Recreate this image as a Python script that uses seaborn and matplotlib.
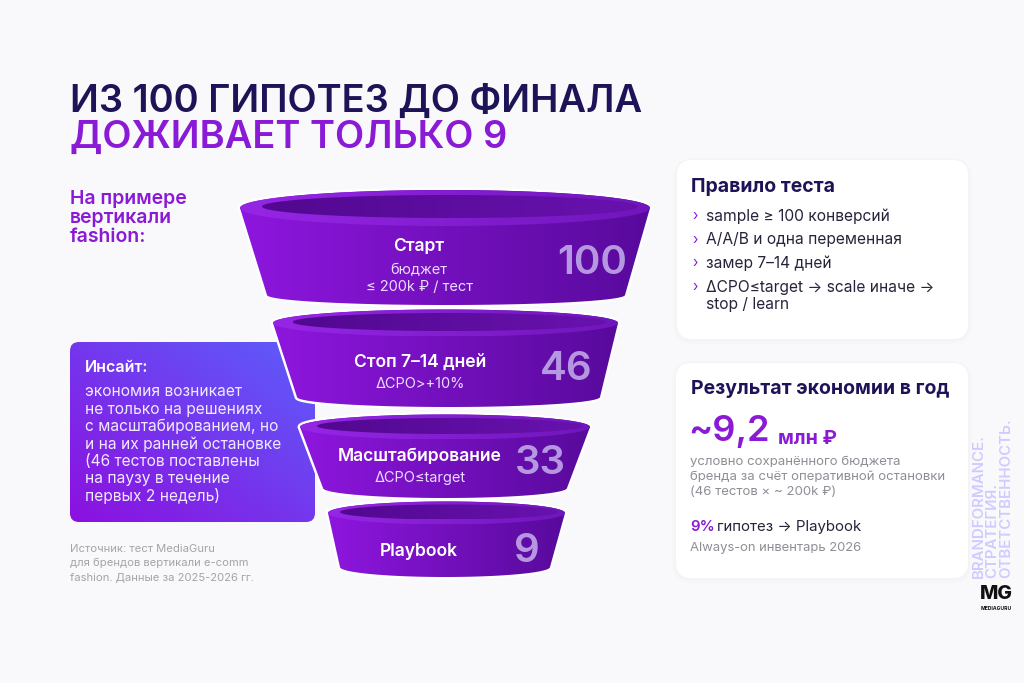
import numpy as np
import matplotlib
matplotlib.use("Agg")
import matplotlib.pyplot as plt
import seaborn as sns
from matplotlib.path import Path
from matplotlib.patches import PathPatch, FancyBboxPatch
from matplotlib.colors import to_rgb

sns.set_theme(style="white")
plt.rcParams['font.family'] = ['Inter', 'DejaVu Sans']

# ---- data ----
title_1 = "ИЗ 100 ГИПОТЕЗ ДО ФИНАЛА"
title_2 = "ДОЖИВАЕТ ТОЛЬКО 9"
subtitle = "На примере\nвертикали\nfashion:"
stages = ["Старт", "Стоп 7–14 дней", "Масштабирование", "Playbook"]
stage_notes = [["бюджет", "≤ 200k ₽ / тест"], ["ΔCPO>+10%"], ["ΔCPO≤target"], []]
counts = [100, 46, 33, 9]
insight_title = "Инсайт:"
insight_lines = ["экономия возникает", "не только на решениях", "с масштабированием, но",
                 "и на их ранней остановке", "(46 тестов поставлены", "на паузу в течение",
                 "первых 2 недель)"]
source_lines = ["Источник: тест MediaGuru", "для брендов вертикали e-comm",
                "fashion. Данные за 2025-2026 гг."]
rules_title = "Правило теста"
rules = [["sample ≥ 100 конверсий"], ["A/A/B и одна переменная"], ["замер 7–14 дней"],
         ["ΔCPO≤target → scale иначе →", "stop / learn"]]
result_title = "Результат экономии в год"
saving_value = "~9,2"
saving_unit = "млн ₽"
saving_notes = ["условно сохранённого бюджета", "бренда за счёт оперативной остановки",
                "(46 тестов × ~ 200k ₽)"]
playbook_share = "9%"
playbook_text = "гипотез → Playbook"
playbook_note = "Always-on инвентарь 2026"
slogan = ["BRANDFORMANCE.", "СТРАТЕГИЯ.", "ОТВЕТСТВЕННОСТЬ."]

# ---- layout / style ----
BG = "#F9F9FB"
NAVY = "#1C1456"
PURPLE = "#8A1AD6"
GRAY = "#8E8E96"
# per tier: top ellipse (cx, cy, a, b), inner ellipse, bottom ellipse, label / number positions
tiers = [
    dict(top=(445, 208, 205, 18), inner=(450, 206.5, 188, 11.5), bot=(446, 295, 179, 10),
         lx=419, ly=247, nx=592, ny=263, noty=[270, 287]),
    dict(top=(445.5, 323, 172.5, 13.5), inner=(449.5, 322, 157, 9), bot=(448.5, 397, 151.5, 10),
         lx=420, ly=362, nx=566, ny=370, noty=[384]),
    dict(top=(445, 427, 145, 12.5), inner=(450, 426, 133, 8), bot=(445, 488, 122, 10),
         lx=420, ly=457, nx=540, ny=464, noty=[478]),
    dict(top=(446.5, 513, 118.5, 11.5), inner=(449, 512, 109, 7.5), bot=(445, 567, 105, 10),
         lx=419, ly=551, nx=527, ny=551, noty=[]),
]

W, H = 1024, 683
fig = plt.figure(figsize=(W / 100, H / 100), dpi=100, facecolor=BG)
ax = fig.add_axes([0, 0, 1, 1])
ax.set_facecolor(BG)


def arc(cx, cy, a, b, t0, t1, n=80):
    t = np.linspace(t0, t1, n)
    return np.column_stack([cx + a * np.cos(t), cy + b * np.sin(t)])


def closed_path(pts):
    pts = np.vstack([pts, pts[:1]])
    codes = [Path.MOVETO] + [Path.LINETO] * (len(pts) - 2) + [Path.CLOSEPOLY]
    return Path(pts, codes)


def gradient(path, c0, c1, z, mode="h"):
    x0, y0 = path.vertices.min(axis=0)
    x1, y1 = path.vertices.max(axis=0)
    t = np.linspace(0, 1, 256)
    if mode == "h":
        g = np.tile(t, (4, 1))
    else:
        X, Y = np.meshgrid(t, t)
        g = (X + (1 - Y)) / 2
    c0, c1 = np.array(to_rgb(c0)), np.array(to_rgb(c1))
    img = c0 + (c1 - c0) * g[..., None]
    clip = PathPatch(path, facecolor="none", edgecolor="none", transform=ax.transData)
    ax.add_patch(clip)
    im = ax.imshow(img, extent=(x0, x1, y1, y0), origin="upper", aspect="auto",
                   interpolation="bicubic", zorder=z)
    im.set_clip_path(clip)


def card(x, y, w, h, r=15):
    for i in range(6, 0, -1):
        ax.add_patch(FancyBboxPatch((x - i * 0.7, y - i * 0.4), w + i * 1.4, h + i * 1.4,
                                    boxstyle=f"round,pad=0,rounding_size={r + i}",
                                    facecolor="#5A4C9A", edgecolor="none", alpha=0.004, zorder=1))
    ax.add_patch(FancyBboxPatch((x, y), w, h, boxstyle=f"round,pad=0,rounding_size={r}",
                                facecolor="white", edgecolor="none", zorder=2))


# ---- title ----
ax.text(70, 102, title_1, color=NAVY, fontsize=27.4, fontweight="semibold", va="center", ha="left")
ax.text(70, 138, title_2, color=PURPLE, fontsize=27.4, fontweight="semibold", va="center", ha="left")
ax.text(70, 218, subtitle, color=PURPLE, fontsize=14, fontweight="semibold", va="center",
        ha="left", linespacing=1.06)

# ---- insight box ----
box = FancyBboxPatch((70, 342), 245, 180, boxstyle="round,pad=0,rounding_size=9",
                     transform=ax.transData)
gradient(box.get_path().transformed(box.get_patch_transform()), "#8C10DF", "#5C5EFB", 3, mode="d")
ax.text(85, 367, insight_title, color="white", fontsize=11.5, fontweight="semibold", va="center", zorder=6)
for i, line in enumerate(insight_lines):
    ax.text(85, 392 + i * 17.3, line, color="#F1EAFF", fontsize=11.2, va="center", zorder=6)

for i, line in enumerate(source_lines):
    ax.text(70, 549 + i * 14.2, line, color="#A3A3AA", fontsize=8.1, va="center")

# ---- funnel ----
for k in range(len(tiers) - 1, -1, -1):
    tr = tiers[k]
    cx, cy, a, b = tr["top"]
    bx, by, ba, bb = tr["bot"]
    body = closed_path(np.vstack([arc(cx, cy, a, b, np.pi, 2 * np.pi),
                                  arc(bx, by, ba, bb, 0, np.pi)]))
    z = 10 + (len(tiers) - k) * 3
    ax.add_patch(PathPatch(body, facecolor="white", edgecolor="white", lw=3.5, zorder=z))
    gradient(body, "#8E16DE", "#580A9C", z + 0.1)
    rim = closed_path(arc(cx, cy, a, b, 0, 2 * np.pi, 160)[:-1])
    gradient(rim, "#9626E6", "#7016BC", z + 0.2)
    ix, iy, ia, ib = tr["inner"]
    inner = closed_path(arc(ix, iy, ia, ib, 0, 2 * np.pi, 160)[:-1])
    gradient(inner, "#520890", "#6812AE", z + 0.3)
    # labels
    ax.text(tr["lx"], tr["ly"], stages[k], color="white", fontsize=12.6, fontweight="semibold",
            ha="center", va="center", zorder=z + 1)
    for note, ny in zip(stage_notes[k], tr["noty"]):
        ax.text(tr["lx"], ny, note, color="#EADCFF", fontsize=10.5, ha="center", va="center",
                zorder=z + 1)
    ax.text(tr["nx"], tr["ny"], str(counts[k]), color="#C6B0EC", alpha=0.85, fontsize=29,
            fontweight="semibold", ha="center", va="center", zorder=z + 1)

# ---- rules card ----
card(677, 160, 291, 179)
ax.text(691, 187, rules_title, color=NAVY, fontsize=14, fontweight="bold", va="center", zorder=5)
yy = 216
for item in rules:
    ax.text(692, yy, "›", color=PURPLE, fontsize=10, va="center", zorder=5)
    for j, line in enumerate(item):
        ax.text(706, yy + j * 17, line, color="#26243A", fontsize=11.2, va="center", zorder=5)
    yy += 23.7

# ---- result card ----
card(676, 363, 292, 215)
ax.text(691, 389, result_title, color=NAVY, fontsize=14, fontweight="bold", va="center", zorder=5)
ax.text(688, 432, saving_value, color=PURPLE, fontsize=26, fontweight="semibold", va="center", zorder=5)
ax.text(778, 439, saving_unit, color=PURPLE, fontsize=14, fontweight="bold", va="center", zorder=5)
for i, line in enumerate(saving_notes):
    ax.text(690, 462 + i * 15.2, line, color=GRAY, fontsize=9.5, va="center", zorder=5)
ax.text(690, 527, playbook_share, color=PURPLE, fontsize=10.8, fontweight="semibold", va="center", zorder=5)
ax.text(717, 527, playbook_text, color="#26243A", fontsize=10.8, va="center", zorder=5)
ax.text(690, 548, playbook_note, color=GRAY, fontsize=9.4, va="center", zorder=5)

# ---- slogan & logo ----
for i, line in enumerate(slogan):
    ax.text(979 + i * 13.5, 578, line, color="#CFCBFF", fontsize=10.8, fontweight="semibold",
            rotation=90, ha="center", va="bottom", zorder=5)
ax.text(996, 594, "MG", color="#111111", fontsize=14, fontweight="heavy", ha="center", va="center")
ax.text(996, 608, "MEDIAGURU", color="#111111", fontsize=3.6, fontweight="bold", ha="center", va="center")

ax.set_xlim(0, W)
ax.set_ylim(H, 0)
ax.axis("off")
fig.savefig("out.png", dpi=100, facecolor=BG)
